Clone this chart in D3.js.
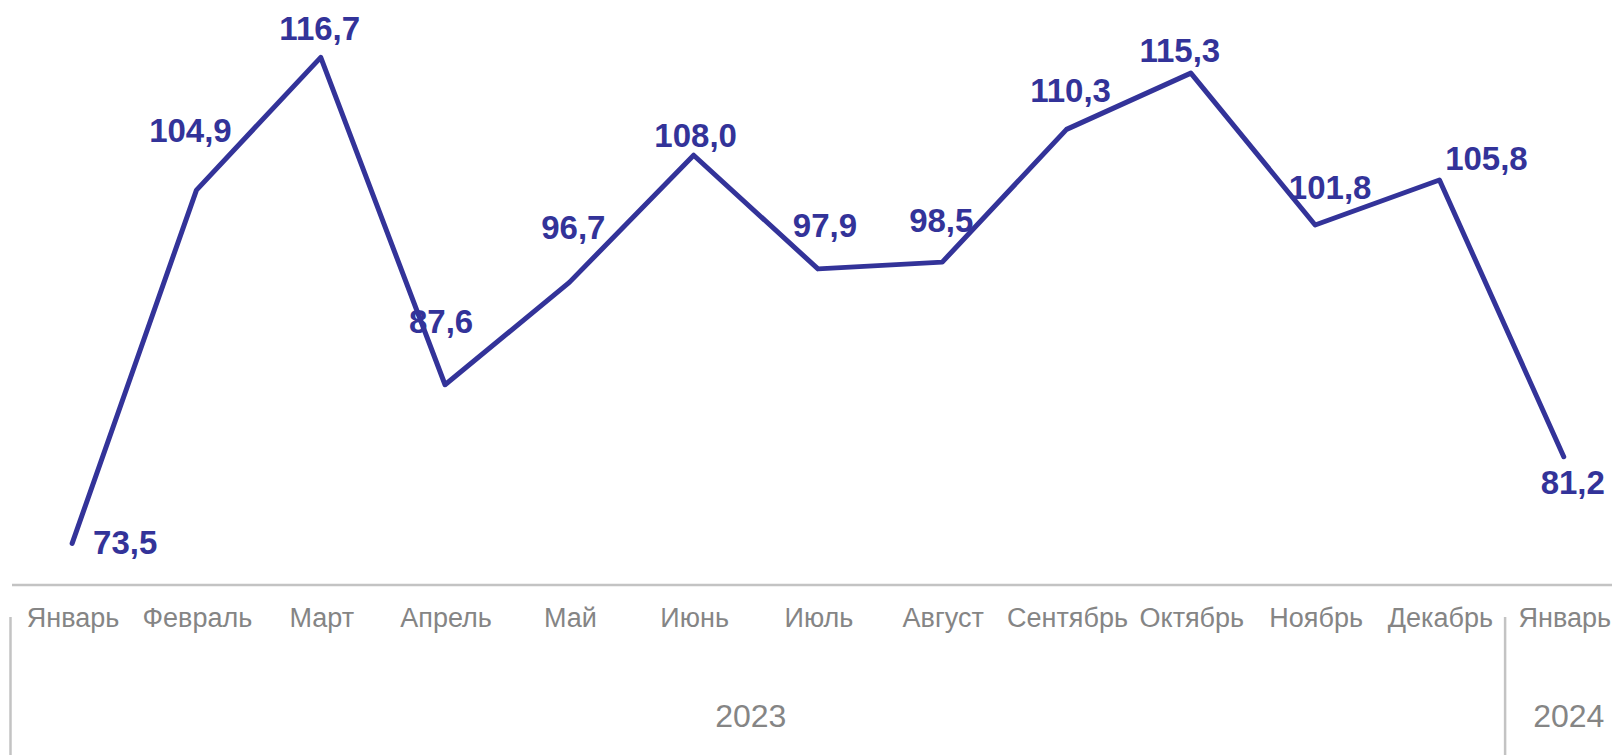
<!DOCTYPE html>
<html>
<head>
<meta charset="utf-8">
<script src="https://cdn.jsdelivr.net/npm/d3@7"></script>
<style>
  body { margin: 0; background: #fff; }
  svg { display: block; font-family: "Liberation Sans", Arial, sans-serif; }
</style>
</head>
<body>
<svg id="chart"></svg>
<script>
const months = ["Январь", "Февраль", "Март", "Апрель", "Май", "Июнь", "Июль",
  "Август", "Сентябрь", "Октябрь", "Ноябрь", "Декабрь", "Январь"];
const values = [73.5, 104.9, 116.7, 87.6, 96.7, 108.0, 97.9, 98.5, 110.3, 115.3, 101.8, 105.8, 81.2];
const years = ["2023", "2024"];
const yearSpans = [12, 1];

// hand placed label nudges (like in the source chart)
const labelDx = [53, -6, -1, -4, 4, 2, 7, -1, 4, -11, 15, 47, 9];
const labelDy = [-1, -60, -29, -64, -55, -20, -44, -42, -39, -23, -38, -22, 25];

const width = 1612;
const height = 755;
const axisY = 585;

const svg = d3.select("#chart")
  .attr("width", width)
  .attr("height", height);

const x = d3.scaleBand()
  .domain(d3.range(months.length))
  .range([10, 10 + months.length * 124.3])
  .padding(0);

const y = d3.scaleLinear()
  .domain([69.8, 121.8])
  .range([axisY, 0]);

const cx = i => x(i) + x.bandwidth() / 2;
const fmt = v => d3.format(".1f")(v).replace(".", ",");

// axis line
svg.append("line")
  .attr("x1", 12).attr("x2", width)
  .attr("y1", axisY).attr("y2", axisY)
  .attr("stroke", "#c3c3c3")
  .attr("stroke-width", 2.5);

// month labels
svg.selectAll("text.month")
  .data(months)
  .join("text")
  .attr("class", "month")
  .attr("x", (d, i) => cx(i) + 1)
  .attr("y", 627)
  .attr("text-anchor", "middle")
  .attr("font-size", "27px")
  .attr("fill", "#858585")
  .text(d => d);

// year groups + separators
let start = 0;
const groups = years.map((yr, k) => {
  const g = { year: yr, from: start, to: start + yearSpans[k] - 1 };
  start += yearSpans[k];
  return g;
});

svg.selectAll("line.sep")
  .data(groups)
  .join("line")
  .attr("class", "sep")
  .attr("x1", d => x(d.from) + (d.from ? 3.5 : 0.5))
  .attr("x2", d => x(d.from) + (d.from ? 3.5 : 0.5))
  .attr("y1", 617).attr("y2", height)
  .attr("stroke", "#c3c3c3")
  .attr("stroke-width", 2.5);

svg.selectAll("text.year")
  .data(groups)
  .join("text")
  .attr("class", "year")
  .attr("x", d => (cx(d.from) + cx(d.to)) / 2 + (d.from === d.to ? 5 : -5))
  .attr("y", 727)
  .attr("text-anchor", "middle")
  .attr("font-size", "32px")
  .attr("fill", "#858585")
  .text(d => d.year);

// the line
const line = d3.line()
  .x((d, i) => cx(i))
  .y(d => y(d));

svg.append("path")
  .datum(values)
  .attr("d", line)
  .attr("fill", "none")
  .attr("stroke", "#333399")
  .attr("stroke-width", 5)
  .attr("stroke-linejoin", "round")
  .attr("stroke-linecap", "round");

// value labels
svg.selectAll("text.val")
  .data(values)
  .join("text")
  .attr("class", "val")
  .attr("x", (d, i) => cx(i) + labelDx[i])
  .attr("y", (d, i) => y(d) + labelDy[i])
  .attr("dy", "0.36em")
  .attr("text-anchor", "middle")
  .attr("font-size", "33px")
  .attr("font-weight", "bold")
  .attr("fill", "#333399")
  .text(d => fmt(d));
</script>
</body>
</html>
